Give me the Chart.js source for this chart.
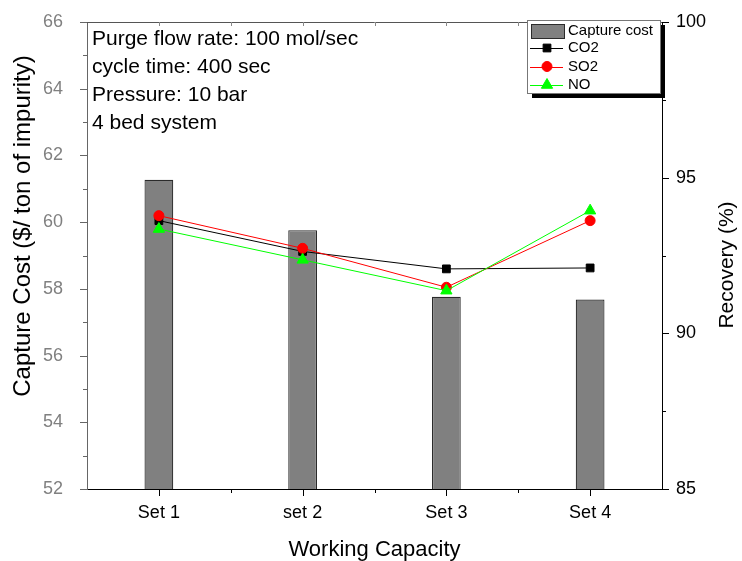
<!DOCTYPE html>
<html>
<head>
<meta charset="utf-8">
<script src="https://cdn.jsdelivr.net/npm/chart.js@4/dist/chart.umd.min.js"></script>
<style>
  body { margin: 0; background: #fff; }
</style>
</head>
<body>
<canvas id="grafico" width="742" height="561"></canvas>
<script>
// datos
const categories = ['Set 1', 'set 2', 'Set 3', 'Set 4'];
const captureCost = [61.27, 59.76, 57.76, 57.68];
const recoveryCO2 = [93.62, 92.63, 92.07, 92.10];
const recoverySO2 = [93.78, 92.73, 91.48, 93.62];
const recoveryNO = [93.35, 92.36, 91.37, 93.94];
const notes = ['Purge flow rate: 100 mol/sec', 'cycle time: 400 sec', 'Pressure: 10 bar', '4 bed system'];

const FONT = "'Liberation Sans', Arial, sans-serif";

const legendItems = [
    { label: 'Capture cost', type: 'bar', color: '#808080' },
    { label: 'CO2', type: 'line', color: '#000000', style: 'rect', radius: 5.5 },
    { label: 'SO2', type: 'line', color: '#ff0000', style: 'circle', radius: 5 },
    { label: 'NO', type: 'line', color: '#00ff00', style: 'triangle', radius: 6.5 },
];

// ticks, marco, leyenda y textos
const extras = {
    id: 'extras',
    afterDraw(chart) {
        const ctx = chart.ctx;
        const area = chart.chartArea;
        const x = chart.scales.x, y = chart.scales.y, y2 = chart.scales.y2;
        ctx.save();
        ctx.lineWidth = 1;

        // borde superior
        ctx.strokeStyle = '#555';
        ctx.beginPath();
        ctx.moveTo(area.left, area.top + 0.5);
        ctx.lineTo(area.right, area.top + 0.5);
        ctx.stroke();

        // ticks del eje izquierdo
        ctx.strokeStyle = '#666';
        for (let v = 52; v <= 66; v++) {
            const py = Math.round(y.getPixelForValue(v)) + 0.5;
            const len = v % 2 === 0 ? 7 : 4;
            ctx.beginPath();
            ctx.moveTo(area.left - len, py);
            ctx.lineTo(area.left, py);
            ctx.stroke();
        }

        // ticks del eje derecho
        ctx.strokeStyle = '#000';
        for (let v = 85; v <= 100; v += 2.5) {
            const py = Math.round(y2.getPixelForValue(v)) + 0.5;
            const len = v % 5 === 0 ? 7 : 4;
            ctx.beginPath();
            ctx.moveTo(area.right, py);
            ctx.lineTo(area.right + len, py);
            ctx.stroke();
        }

        // ticks del eje x (abajo y arriba)
        const marks = [];
        categories.forEach((c, i) => {
            marks.push({ px: x.getPixelForValue(i), major: true });
            if (i < categories.length - 1) {
                marks.push({ px: (x.getPixelForValue(i) + x.getPixelForValue(i + 1)) / 2, major: false });
            }
        });
        marks.forEach(m => {
            const px = Math.round(m.px) + 0.5;
            ctx.strokeStyle = '#000';
            ctx.beginPath();
            ctx.moveTo(px, area.bottom);
            ctx.lineTo(px, area.bottom + (m.major ? 7 : 4));
            ctx.stroke();
            ctx.strokeStyle = '#888';
            ctx.beginPath();
            ctx.moveTo(px, area.top);
            ctx.lineTo(px, area.top + 4);
            ctx.stroke();
        });

        // textos de condiciones
        ctx.fillStyle = '#000';
        ctx.font = '21px ' + FONT;
        ctx.textAlign = 'left';
        ctx.textBaseline = 'alphabetic';
        notes.forEach((t, i) => ctx.fillText(t, 92, 45 + i * 28));

        // titulos de ejes
        ctx.textAlign = 'center';
        ctx.textBaseline = 'middle';
        ctx.font = '24px ' + FONT;
        ctx.save();
        ctx.translate(23, 226);
        ctx.rotate(-Math.PI / 2);
        ctx.fillText('Capture Cost ($/ ton of impurity)', 0, 0);
        ctx.restore();

        ctx.font = '21px ' + FONT;
        ctx.save();
        ctx.translate(727, 265);
        ctx.rotate(-Math.PI / 2);
        ctx.fillText('Recovery (%)', 0, 0);
        ctx.restore();

        ctx.font = '22px ' + FONT;
        ctx.textBaseline = 'alphabetic';
        ctx.fillText('Working Capacity', (area.left + area.right) / 2, 556);

        // leyenda con sombra
        const lx = 527, ly = 20, lw = 133, lh = 73;
        ctx.fillStyle = '#000';
        ctx.fillRect(lx + 5, ly + 5, lw, lh);
        ctx.fillStyle = '#fff';
        ctx.fillRect(lx, ly, lw, lh);
        ctx.strokeStyle = '#777';
        ctx.strokeRect(lx + 0.5, ly + 0.5, lw, lh);

        ctx.font = '15px ' + FONT;
        ctx.textAlign = 'left';
        ctx.textBaseline = 'middle';
        const rows = [31, 48, 66.5, 85];
        legendItems.forEach((item, i) => {
            const ry = rows[i];
            if (item.type === 'bar') {
                ctx.fillStyle = item.color;
                ctx.fillRect(531, ry - 7, 33, 14);
                ctx.strokeStyle = '#2b2b2b';
                ctx.strokeRect(531.5, ry - 6.5, 33, 14);
            } else {
                ctx.strokeStyle = item.color;
                ctx.beginPath();
                ctx.moveTo(530, Math.round(ry) + 0.5);
                ctx.lineTo(563, Math.round(ry) + 0.5);
                ctx.stroke();
                ctx.fillStyle = item.color;
                Chart.helpers.drawPoint(ctx, { pointStyle: item.style, radius: item.radius, borderWidth: 1, rotation: 0 }, 547, ry);
            }
            ctx.fillStyle = '#000';
            ctx.fillText(item.label, 568, ry);
        });

        ctx.restore();
    }
};

const ctx = document.getElementById('grafico').getContext('2d');

new Chart(ctx, {
    data: {
        labels: categories,
        datasets: [
            {
                type: 'bar',
                label: 'Capture cost',
                data: captureCost,
                backgroundColor: '#808080',
                borderColor: '#2b2b2b',
                borderWidth: 1.2,
                yAxisID: 'y',
                order: 4,
                barPercentage: 0.2,
                categoryPercentage: 1,
            },
            {
                type: 'line',
                label: 'CO2',
                data: recoveryCO2,
                borderColor: '#000000',
                backgroundColor: '#000000',
                borderWidth: 1,
                pointStyle: 'rect',
                pointRadius: 5.5,
                yAxisID: 'y2',
                order: 3,
            },
            {
                type: 'line',
                label: 'SO2',
                data: recoverySO2,
                borderColor: '#ff0000',
                backgroundColor: '#ff0000',
                borderWidth: 1,
                pointStyle: 'circle',
                pointRadius: 5,
                yAxisID: 'y2',
                order: 2,
            },
            {
                type: 'line',
                label: 'NO',
                data: recoveryNO,
                borderColor: '#00ff00',
                backgroundColor: '#00ff00',
                borderWidth: 1,
                pointStyle: 'triangle',
                pointRadius: 6.5,
                yAxisID: 'y2',
                order: 1,
            },
        ],
    },
    options: {
        responsive: false,
        animation: false,
        devicePixelRatio: 1,
        layout: { padding: { top: 22 } },
        plugins: {
            legend: { display: false },
            tooltip: { enabled: false },
        },
        scales: {
            x: {
                offset: true,
                grid: { display: false },
                border: { display: true, color: '#000', width: 1 },
                ticks: { color: '#000', font: { family: FONT, size: 18 }, padding: 5 },
                afterFit: s => { s.height = 72; },
            },
            y: {
                position: 'left',
                min: 52,
                max: 66,
                grid: { display: false },
                border: { display: true, color: '#666', width: 1 },
                ticks: { stepSize: 2, color: '#808080', font: { family: FONT, size: 18 }, padding: 16 },
                afterFit: s => { s.width = 87; s.paddingTop = 0; s.paddingBottom = 0; },
            },
            y2: {
                position: 'right',
                min: 85,
                max: 100,
                grid: { display: false },
                border: { display: true, color: '#000', width: 1 },
                ticks: { stepSize: 5, color: '#000', font: { family: FONT, size: 18 }, padding: 6 },
                afterFit: s => { s.width = 80; s.paddingTop = 0; s.paddingBottom = 0; },
            },
        },
    },
    plugins: [extras],
});
</script>
</body>
</html>
